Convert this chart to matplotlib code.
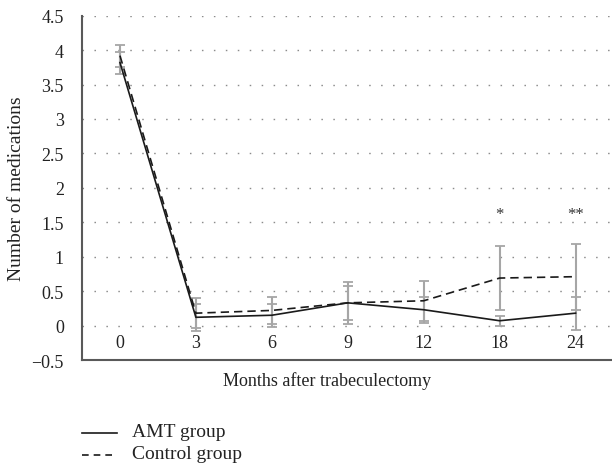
import matplotlib
matplotlib.use("Agg")
import matplotlib.pyplot as plt
import numpy as np
from matplotlib.lines import Line2D

months = ["0", "3", "6", "9", "12", "18", "24"]
amt_mean = [3.82, 0.12, 0.15, 0.33, 0.23, 0.07, 0.18]
amt_err = [0.16, 0.20, 0.17, 0.25, 0.19, 0.07, 0.24]
ctrl_mean = [3.92, 0.18, 0.22, 0.33, 0.36, 0.69, 0.71]
ctrl_err = [0.16, 0.22, 0.20, 0.30, 0.29, 0.46, 0.48]
sig_marks = {5: "*", 6: "**"}
yticks = [-0.5, 0, 0.5, 1, 1.5, 2, 2.5, 3, 3.5, 4, 4.5]
ytick_labels = ["\u22120.5", "0", "0.5", "1", "1.5", "2", "2.5", "3", "3.5", "4", "4.5"]

plt.rcParams['font.family'] = ['Liberation Serif', 'DejaVu Serif']

fig = plt.figure(figsize=(6.12, 4.64), dpi=100)
ax = fig.add_axes([82/612, 1 - 361/464, 1 - 82/612, (361 - 16.7)/464])

x = np.arange(len(months))

# grid
for yv in yticks[1:]:
    ax.axhline(yv, color='#8c8c8c', lw=1.0, linestyle=(0, (1.1, 7.5)), zorder=0)

ax.errorbar(x, ctrl_mean, yerr=ctrl_err, fmt='none', ecolor='#a6a6a6',
            elinewidth=1.5, capsize=3.8, capthick=1.3, zorder=2)
ax.errorbar(x, amt_mean, yerr=amt_err, fmt='none', ecolor='#a6a6a6',
            elinewidth=1.5, capsize=3.8, capthick=1.3, zorder=2)

ax.plot(x, amt_mean, color='#1a1a1a', lw=1.2, zorder=3)
ax.plot(x, ctrl_mean, color='#1a1a1a', lw=1.2, linestyle=(0, (5, 3)), zorder=3)

for i, s in sig_marks.items():
    ax.text(x[i], 1.62, s, ha='center', va='center', fontsize=12, color='#333333')

for i, lab in enumerate(months):
    ax.text(x[i], -0.25, lab, ha='center', va='center', fontsize=13, color='#222222')

ax.set_xlim(-0.5, 6.48)
ax.set_ylim(-0.5, 4.5)
ax.set_xticks([])
ax.set_yticks(yticks)
ax.set_yticklabels(ytick_labels)
ax.tick_params(axis='y', length=0, pad=13, labelsize=13, labelcolor='#222222')

for sp in ['top', 'right']:
    ax.spines[sp].set_visible(False)
for sp in ['left', 'bottom']:
    ax.spines[sp].set_color('#595959')
    ax.spines[sp].set_linewidth(1.5)

ax.set_ylabel("Number of medications", fontsize=14, color='#222222', labelpad=5)
fig.text(0.535, 1 - 381/464, "Months after trabeculectomy", ha='center', va='center',
         fontsize=13, color='#222222')

# legend
fig.add_artist(Line2D([82/612, 117/612], [1 - 434/464] * 2, color='#1a1a1a', lw=1.2))
fig.add_artist(Line2D([82/612, 117/612], [1 - 456/464] * 2, color='#1a1a1a', lw=1.2,
                      linestyle=(0, (4, 3))))
fig.text(132/612, 1 - 433/464, "AMT group", ha='left', va='center', fontsize=14, color='#222222')
fig.text(132/612, 1 - 455/464, "Control group", ha='left', va='center', fontsize=14, color='#222222')

fig.savefig("out.png", dpi=100)
